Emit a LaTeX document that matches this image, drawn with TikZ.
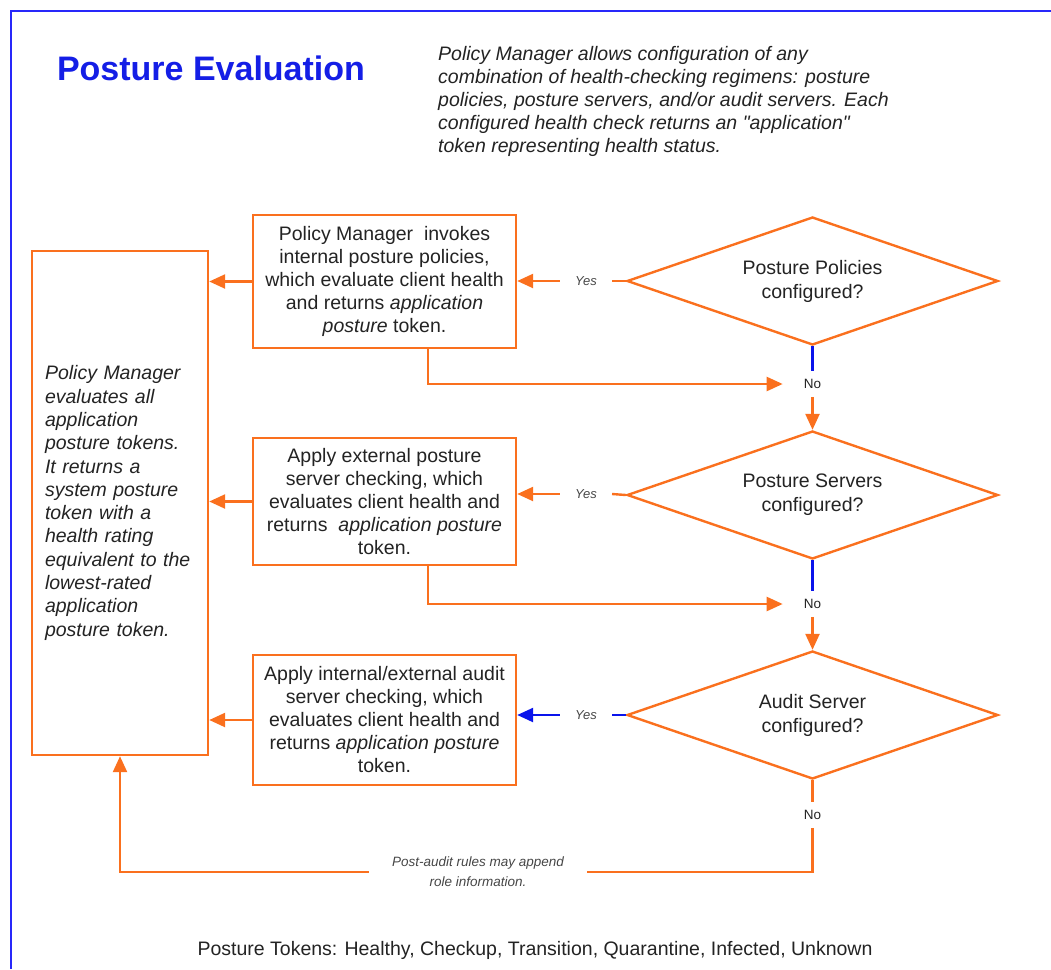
\documentclass[tikz,border=0pt]{standalone}
\usepackage{fontspec}
\setmainfont{Liberation Sans}
\usetikzlibrary{shapes.geometric,arrows.meta}
\definecolor{flow}{RGB}{250,112,30}
\definecolor{frameblue}{RGB}{40,40,250}
\definecolor{titleblue}{RGB}{20,30,230}
\definecolor{linkblue}{RGB}{10,20,235}
\definecolor{ink}{RGB}{35,35,35}
\definecolor{note}{RGB}{70,70,70}
\begin{document}
\begin{tikzpicture}[x=1pt,y=-1pt,line width=2.4pt,
  stepbox/.style={draw=flow,text=ink,align=center,inner sep=0pt,minimum width=263pt,font=\fontsize{19.5}{23}\selectfont},
  check/.style={diamond,aspect=2.9,draw=flow,text=ink,align=center,inner sep=0pt,minimum width=371pt,minimum height=128pt,font=\fontsize{19.5}{24}\selectfont},
  yeslabel/.style={text=note,inner xsep=14pt,inner ysep=2pt,font=\fontsize{13}{15}\selectfont\itshape},
  nolabel/.style={text=ink,inner xsep=20pt,inner ysep=7pt,font=\fontsize{13.5}{15}\selectfont},
  arr/.style={-{Triangle[length=16pt,width=14pt]}}]
\useasboundingbox (0,0) rectangle (1051,969);
\draw[frameblue,line width=2pt] (11,969) -- (11,11) -- (1051,11);
\node[text=titleblue,font=\fontsize{34}{40}\selectfont\bfseries] (title) at (211,68) {Posture Evaluation};
\node[anchor=west,inner sep=0pt,align=left,text=ink,font=\fontsize{19.5}{23}\selectfont\itshape] (intro) at (437,101)
  {Policy Manager allows configuration of any\\combination of health-checking regimens: posture\\policies, posture servers, and/or audit servers. Each\\configured health check returns an \textquotedbl application\textquotedbl\\token representing health status.};
\node[stepbox,minimum width=176pt,minimum height=504pt,text width=150pt,align=left,font=\fontsize{19.5}{23.3}\selectfont\itshape] (tok) at (120,503)
  {Policy Manager\\evaluates all\\application\\posture tokens.\\It returns a\\system posture\\token with a\\health rating\\equivalent to the\\lowest-rated\\application\\posture token.};
\node[stepbox,minimum height=133pt] (box1) at (384.5,281.5)
  {Policy Manager\ \ invokes\\internal posture policies,\\which evaluate client health\\and returns \textit{application}\\\textit{posture} token.};
\node[stepbox,minimum height=127pt] (box2) at (384.5,501.5)
  {Apply external posture\\server checking, which\\evaluates client health and\\returns\ \ \textit{application posture}\\token.};
\node[stepbox,minimum height=130pt] (box3) at (384.5,720)
  {Apply internal/external audit\\server checking, which\\evaluates client health and\\returns \textit{application posture}\\token.};
\node[check] (d1) at (812.5,281) {Posture Policies\\configured?};
\node[check] (d2) at (812.5,495) {Posture Servers\\configured?};
\node[check] (d3) at (812.5,715) {Audit Server\\configured?};
\node[yeslabel] (yes1) at (586,281) {Yes};
\node[yeslabel] (yes2) at (586,494) {Yes};
\node[yeslabel] (yes3) at (586,715) {Yes};
\node[nolabel] (no1) at (812.5,384) {No};
\node[nolabel] (no2) at (812.5,604) {No};
\node[nolabel] (no3) at (812.5,815) {No};
\node[text=note,inner xsep=22pt,inner ysep=2pt,align=center,font=\fontsize{13.5}{20}\selectfont\itshape] (post) at (478,872)
  {Post-audit rules may append\\role information.};
\node[text=ink,font=\fontsize{19.5}{23}\selectfont] (legend) at (535,950)
  {Posture Tokens: Healthy, Checkup, Transition, Quarantine, Infected, Unknown};
\draw[flow] (d1.west) -- (yes1.east);
\draw[flow,arr] (yes1.west) -- (yes1.west -| box1.east);
\draw[flow] (d2.west) -- (yes2.east);
\draw[flow,arr] (yes2.west) -- (yes2.west -| box2.east);
\draw[linkblue] (d3.west) -- (yes3.east);
\draw[linkblue,arr] (yes3.west) -- (yes3.west -| box3.east);
\draw[linkblue] (d1.south) -- (no1.north);
\draw[flow,arr] (no1.south) -- (d2.north);
\draw[linkblue] (d2.south) -- (no2.north);
\draw[flow,arr] (no2.south) -- (d3.north);
\draw[flow] (d3.south) -- (no3.north);
\draw[flow] (no3.south) |- (post.east);
\draw[flow,arr] (post.west) -| (tok.south);
\draw[flow,arr] ([xshift=43.5pt]box1.south) |- (no1.west);
\draw[flow,arr] ([xshift=43.5pt]box2.south) |- (no2.west);
\draw[flow,arr] (box1.west) -- (box1.west -| tok.east);
\draw[flow,arr] (box2.west) -- (box2.west -| tok.east);
\draw[flow,arr] (box3.west) -- (box3.west -| tok.east);
\end{tikzpicture}
\end{document}
